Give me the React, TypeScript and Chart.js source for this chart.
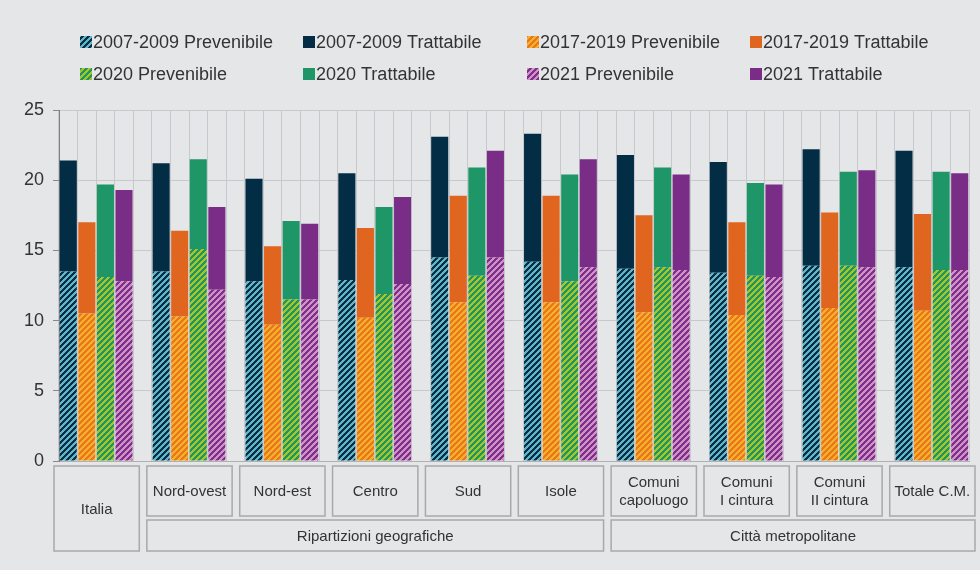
import React, { useEffect, useRef } from 'react';
import { Chart, registerables } from 'chart.js';

Chart.register(...registerables);

// ---------------- DATA ----------------
const categories = [
  'Italia',
  'Nord-ovest',
  'Nord-est',
  'Centro',
  'Sud',
  'Isole',
  'Comuni\ncapoluogo',
  'Comuni\nI cintura',
  'Comuni\nII cintura',
  'Totale C.M.',
];

const groupLabels = ['Ripartizioni geografiche', 'Città metropolitane'];
const groupFrom = [1, 6];
const groupTo = [5, 9];

const periods = ['2007-2009', '2017-2019', '2020', '2021'];

// Prevenibile (bottom segment) and Trattabile (top segment) per period
const prev0709 = [13.5, 13.5, 12.8, 12.9, 14.5, 14.2, 13.7, 13.4, 13.9, 13.8];
const tratt0709 = [7.9, 7.7, 7.3, 7.6, 8.6, 9.1, 8.1, 7.9, 8.3, 8.3];
const prev1719 = [10.5, 10.3, 9.7, 10.2, 11.3, 11.3, 10.6, 10.4, 10.9, 10.7];
const tratt1719 = [6.5, 6.1, 5.6, 6.4, 7.6, 7.6, 6.9, 6.6, 6.8, 6.9];
const prev2020 = [13.1, 15.1, 11.5, 11.9, 13.2, 12.8, 13.8, 13.2, 13.9, 13.6];
const tratt2020 = [6.6, 6.4, 5.6, 6.2, 7.7, 7.6, 7.1, 6.6, 6.7, 7.0];
const prev2021 = [12.8, 12.2, 11.5, 12.6, 14.5, 13.8, 13.6, 13.1, 13.8, 13.6];
const tratt2021 = [6.5, 5.9, 5.4, 6.2, 7.6, 7.7, 6.8, 6.6, 6.9, 6.9];

const yTicks = [0, 5, 10, 15, 20, 25];

// ---------------- STYLE ----------------
const BG = '#e5e6e8';
const FONT = '"Liberation Sans", Arial, sans-serif';
const TEXT = '#333333';
const solidColors = ['#032c45', '#e0651f', '#1e9667', '#7a2d86'];
const hatchColors = [
  ['#0b2e44', '#5db6c9'],
  ['#ea761b', '#f3b02b'],
  ['#1f965f', '#a7c52b'],
  ['#7d2f8c', '#d291c4'],
];

const SLOTS_PER_CAT = periods.length + 1;
const N_SLOTS = categories.length * SLOTS_PER_CAT - 1;

function makePattern(bg: string, fg: string): CanvasPattern | string {
  const n = 6;
  const c = document.createElement('canvas');
  c.width = n;
  c.height = n;
  const g = c.getContext('2d');
  if (!g) return bg;
  g.fillStyle = bg;
  g.fillRect(0, 0, n, n);
  g.fillStyle = fg;
  for (let y = 0; y < n; y++) {
    for (let x = 0; x < n; x++) {
      if ((x + y) % n < 3) g.fillRect(x, y, 1, 1);
    }
  }
  const p = g.createPattern(c, 'repeat');
  return p || bg;
}

function spread(values: number[], periodIndex: number): (number | null)[] {
  const out: (number | null)[] = new Array(N_SLOTS).fill(null);
  values.forEach((v, i) => {
    out[i * SLOTS_PER_CAT + periodIndex] = v;
  });
  return out;
}

const legendPlugin = {
  id: 'gridLegend',
  afterDraw(chart: any) {
    const ctx = chart.ctx as CanvasRenderingContext2D;
    const colX = [80, 303, 527, 750];
    const rowY = [42, 74];
    ctx.save();
    ctx.font = `18px ${FONT}`;
    ctx.textBaseline = 'middle';
    ctx.textAlign = 'left';
    chart.data.datasets.forEach((ds: any, i: number) => {
      const col = i % 4;
      const row = Math.floor(i / 4);
      const x = colX[col];
      const y = rowY[row];
      ctx.fillStyle = ds.backgroundColor;
      ctx.fillRect(x, y - 6, 12, 12);
      ctx.fillStyle = TEXT;
      ctx.fillText(ds.label, x + 13, y + 1);
    });
    ctx.restore();
  },
};

const boxesPlugin = {
  id: 'catBoxes',
  afterDraw(chart: any) {
    const ctx = chart.ctx as CanvasRenderingContext2D;
    const xs = chart.scales.x;
    const slotW = xs.width / N_SLOTS;
    const top1 = chart.chartArea.bottom + 5;
    const bot1 = top1 + 50;
    const top2 = bot1 + 4;
    const bot2 = top2 + 31;
    const padL = 5;
    const padR = 6;
    const catLeft = (i: number) => xs.getPixelForValue(i * SLOTS_PER_CAT) - slotW / 2 - padL;
    const catRight = (i: number) =>
      xs.getPixelForValue(i * SLOTS_PER_CAT + periods.length - 1) + slotW / 2 + padR;

    ctx.save();
    ctx.strokeStyle = '#a9a9a9';
    ctx.lineWidth = 1.5;
    ctx.fillStyle = TEXT;
    ctx.font = `15px ${FONT}`;
    ctx.textAlign = 'center';
    ctx.textBaseline = 'middle';

    const inGroup = (i: number) => groupFrom.some((f, g) => i >= f && i <= groupTo[g]);

    categories.forEach((cat, i) => {
      const l = catLeft(i);
      const r = catRight(i);
      const b = inGroup(i) ? bot1 : bot2;
      ctx.strokeRect(l, top1, r - l, b - top1);
      const lines = cat.split('\n');
      const cy = (top1 + b) / 2;
      const lh = 18;
      lines.forEach((ln, k) => {
        ctx.fillText(ln, (l + r) / 2, cy + (k - (lines.length - 1) / 2) * lh + 1);
      });
    });

    groupLabels.forEach((g, k) => {
      const l = catLeft(groupFrom[k]);
      const r = catRight(groupTo[k]);
      ctx.strokeRect(l, top2, r - l, bot2 - top2);
      ctx.fillText(g, (l + r) / 2, (top2 + bot2) / 2 + 1);
    });
    ctx.restore();
  },
};

export default function App() {
  const ref = useRef<HTMLCanvasElement | null>(null);

  useEffect(() => {
    document.body.style.margin = '0';
    document.body.style.background = BG;
    if (!ref.current) return;

    const prevs = [prev0709, prev1719, prev2020, prev2021];
    const tratts = [tratt0709, tratt1719, tratt2020, tratt2021];
    const datasets: any[] = [];
    periods.forEach((p, k) => {
      datasets.push({
        label: `${p} Prevenibile`,
        data: spread(prevs[k], k),
        backgroundColor: makePattern(hatchColors[k][0], hatchColors[k][1]),
        borderWidth: 0,
      });
      datasets.push({
        label: `${p} Trattabile`,
        data: spread(tratts[k], k),
        backgroundColor: solidColors[k],
        borderWidth: 0,
      });
    });

    const chart = new Chart(ref.current, {
      type: 'bar',
      data: {
        labels: new Array(N_SLOTS).fill(''),
        datasets,
      },
      options: {
        animation: false,
        responsive: true,
        maintainAspectRatio: false,
        layout: { padding: { top: 110, right: 11, bottom: 109, left: 0 } },
        datasets: {
          bar: { barPercentage: 1, categoryPercentage: 0.92 },
        },
        plugins: {
          legend: { display: false },
          tooltip: { enabled: false },
        },
        scales: {
          x: {
            stacked: true,
            grid: { offset: true, color: '#c8c9cc', drawTicks: false, lineWidth: 1 },
            border: { color: '#b0b0b0' },
            ticks: { display: false },
            afterFit: (s: any) => {
              s.height = 0;
            },
          },
          y: {
            stacked: true,
            min: yTicks[0],
            max: yTicks[yTicks.length - 1],
            afterBuildTicks: (s: any) => {
              s.ticks = yTicks.map((v) => ({ value: v }));
            },
            ticks: {
              font: { size: 18, family: FONT },
              color: TEXT,
              padding: 9,
            },
            grid: { color: '#c8c9cc', tickLength: 6, tickColor: '#8a8a8a' },
            border: { color: '#808080' },
            afterFit: (s: any) => {
              s.width = 59;
            },
          },
        },
      },
      plugins: [legendPlugin, boxesPlugin],
    });

    return () => chart.destroy();
  }, []);

  return (
    <div style={{ width: 980, height: 570, position: 'relative', background: BG }}>
      <canvas ref={ref} />
    </div>
  );
}
